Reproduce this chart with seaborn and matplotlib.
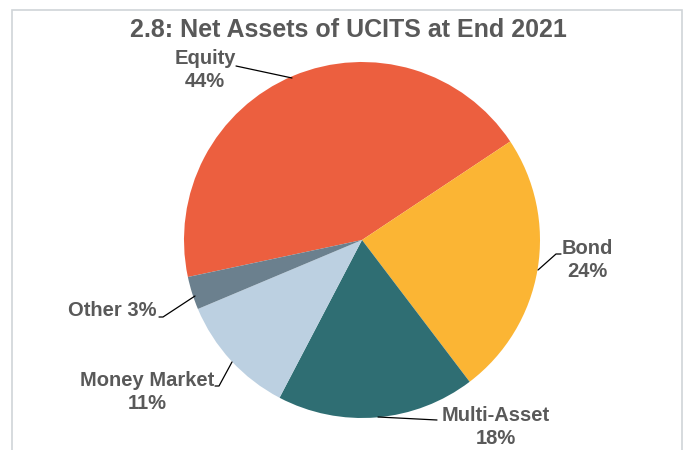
import matplotlib
matplotlib.use("Agg")
import matplotlib.pyplot as plt
import seaborn as sns
from matplotlib.patches import Rectangle

categories = ["Equity", "Bond", "Multi-Asset", "Money Market", "Other"]
shares = [44, 24, 18, 11, 3]
label_texts = ["Equity\n44%", "Bond\n24%", "Multi-Asset\n18%", "Money Market\n11%", "Other 3%"]

sns.set_theme(style="white")
plt.rcParams["font.family"] = ["Liberation Sans", "DejaVu Sans"]

colors = sns.color_palette(["#EC5F3F", "#FBB534", "#2F6E73", "#BCD0E1", "#6B808E"])
text_color = "#595959"

W, H = 685, 450
CX, CY, R = 362, 240, 178


def px(x, y):
    # pixel position -> data coords (pie radius = 1)
    return ((x - CX) / R, (CY - y) / R)


fig = plt.figure(figsize=(W / 100, H / 100), dpi=100)
ax = fig.add_axes([0, 0, 1, 1])

ax.pie(shares, colors=colors, startangle=192, counterclock=False,
       radius=1, center=(0, 0), wedgeprops=dict(linewidth=0), frame=True)
ax.set_xlim(-CX / R, (W - CX) / R)
ax.set_ylim((CY - H) / R, CY / R)
ax.set_aspect("auto")
ax.axis("off")

# label layout: text centre, then leader line points
layout = [
    ((205, 70), [(236, 66), (292, 78)]),
    ((587, 260), [(561, 254), (556, 254), (538, 270)]),
    ((496, 427), [(437, 420), (378, 417)]),
    ((147, 392), [(215, 386), (219, 386), (232, 362)]),
    ((112, 311), [(159, 317), (163, 317), (195, 296)]),
]
for txt, (tp, pts) in zip(label_texts, layout):
    ax.text(*px(*tp), txt, ha="center", va="center", fontsize=14.5, fontweight="bold",
            color=text_color, linespacing=1.25)
    xs, ys = zip(*[px(*p) for p in pts])
    ax.plot(xs, ys, color="black", lw=0.9)

fig.text(348 / W, 1 - 30 / H, "2.8: Net Assets of UCITS at End 2021", ha="center",
         va="center", fontsize=18, fontweight="bold", color=text_color)

fig.patches.append(Rectangle((12 / W, -0.05), 670 / W, 1.05 - 10 / H,
                             transform=fig.transFigure, fill=False,
                             edgecolor="#D0D4D8", lw=1.2))

fig.savefig("out.png", dpi=100)
